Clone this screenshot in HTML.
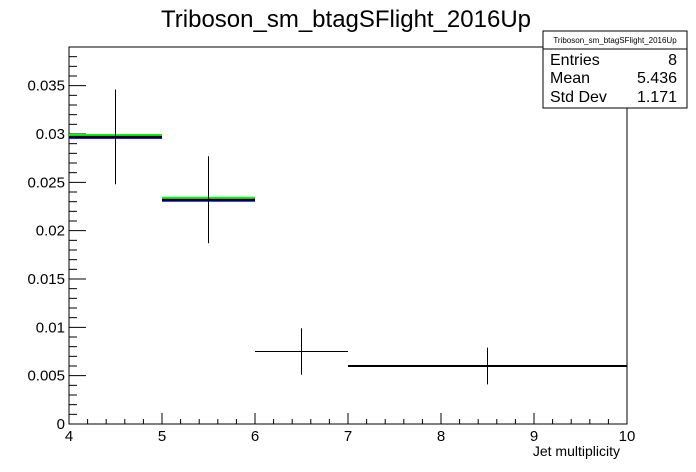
<!DOCTYPE html>
<html><head><meta charset="utf-8"><style>
body{margin:0;background:#fff}
svg{display:block;font-family:"Liberation Sans",sans-serif}
</style></head><body>
<svg id="c" width="696" height="472" viewBox="0 0 696 472">
<rect width="696" height="472" fill="#fff"/>
<text x="346" y="27" font-size="24" text-anchor="middle">Triboson_sm_btagSFlight_2016Up</text>
<rect x="69" y="47" width="558" height="377" fill="none" stroke="#000"/>
<g id="axes"></g>
<g id="marks"></g>
<text x="620" y="456" font-size="14" text-anchor="end">Jet multiplicity</text>
<g>
<rect x="543" y="31" width="144" height="77" fill="#fff" stroke="#000"/>
<line x1="543" y1="49" x2="687" y2="49" stroke="#000"/>
<text x="615" y="43" style="font-size:8px" text-anchor="middle">Triboson_sm_btagSFlight_2016Up</text>
<text x="550" y="65" style="font-size:16px">Entries</text><text x="677" y="65" style="font-size:16px" text-anchor="end">8</text>
<text x="550" y="83" style="font-size:16px">Mean</text><text x="677" y="83" style="font-size:16px" text-anchor="end">5.436</text>
<text x="550" y="102" style="font-size:16px">Std Dev</text><text x="677" y="102" style="font-size:16px" text-anchor="end">1.171</text>
</g>
</svg>
<script>
const binLow=[4,5,6,7];
const binHigh=[5,6,7,10];
const values=[0.0297,0.0232,0.0075,0.0060];
const errors=[0.0049,0.0045,0.0024,0.0019];
const greenValues=[0.0299,0.0234,null,null];
const blueValues=[0.0297,0.0232,null,null];
const xTicks=[4,5,6,7,8,9,10];
const yTicks=[0,0.005,0.01,0.015,0.02,0.025,0.03,0.035];
const NS="http://www.w3.org/2000/svg";
const X0=69,X1=627,Y0=424,Y1=47,xmin=4,xmax=10,ymin=0,ymax=0.039;
const sx=v=>X0+(v-xmin)/(xmax-xmin)*(X1-X0);
const sy=v=>Y0-(v-ymin)/(ymax-ymin)*(Y0-Y1);
function mk(tag,attrs,parent){const e=document.createElementNS(NS,tag);for(const k in attrs)e.setAttribute(k,attrs[k]);parent.appendChild(e);return e;}
const ax=document.getElementById('axes'),mg=document.getElementById('marks');
for(let v=xmin;v<=xmax+1e-9;v+=0.2){
  const maj=Math.abs(v-Math.round(v))<1e-6;
  const t=mk('line',{x1:sx(v),x2:sx(v),y1:Y0,y2:Y0-(maj?11:5),stroke:'#000'},ax);
  
  
}
xTicks.forEach(v=>{const t=mk('text',{x:sx(v),y:Y0+17,'font-size':15,'text-anchor':'middle'},ax);t.textContent=v;
  
  });
for(let v=0;v<=ymax+1e-9;v+=0.001){
  const maj=Math.abs(v/0.005-Math.round(v/0.005))<1e-6;
  const t=mk('line',{x1:X0,x2:X0+(maj?17:8),y1:sy(v),y2:sy(v),stroke:'#000'},ax);
  
  
}
yTicks.forEach(v=>{const t=mk('text',{x:X0-4,y:sy(v)+5,'font-size':15,'text-anchor':'end'},ax);t.textContent=String(+v.toFixed(3));
  
  });
greenValues.forEach((v,i)=>{if(v==null)return;const l=mk('line',{x1:sx(binLow[i]),x2:sx(binHigh[i]),y1:sy(v),y2:sy(v),stroke:'#00ff00','stroke-width':2},mg);
  
  });
blueValues.forEach((v,i)=>{if(v==null)return;const l=mk('line',{x1:sx(binLow[i]),x2:sx(binHigh[i]),y1:sy(v)+1,y2:sy(v)+1,stroke:'#0000ff','stroke-width':2},mg);
  
  });
values.forEach((v,i)=>{
  const thick=greenValues[i]!=null||i===3;
  const h=mk('line',{x1:sx(binLow[i]),x2:sx(binHigh[i]),y1:sy(v),y2:sy(v),stroke:'#000','stroke-width':thick?2:1},mg);
  
  
  const xc=sx((binLow[i]+binHigh[i])/2);
  const e=mk('line',{x1:xc,x2:xc,y1:sy(v-errors[i]),y2:sy(v+errors[i]),stroke:'#000'},mg);
  
  
});
</script>
</body></html>
